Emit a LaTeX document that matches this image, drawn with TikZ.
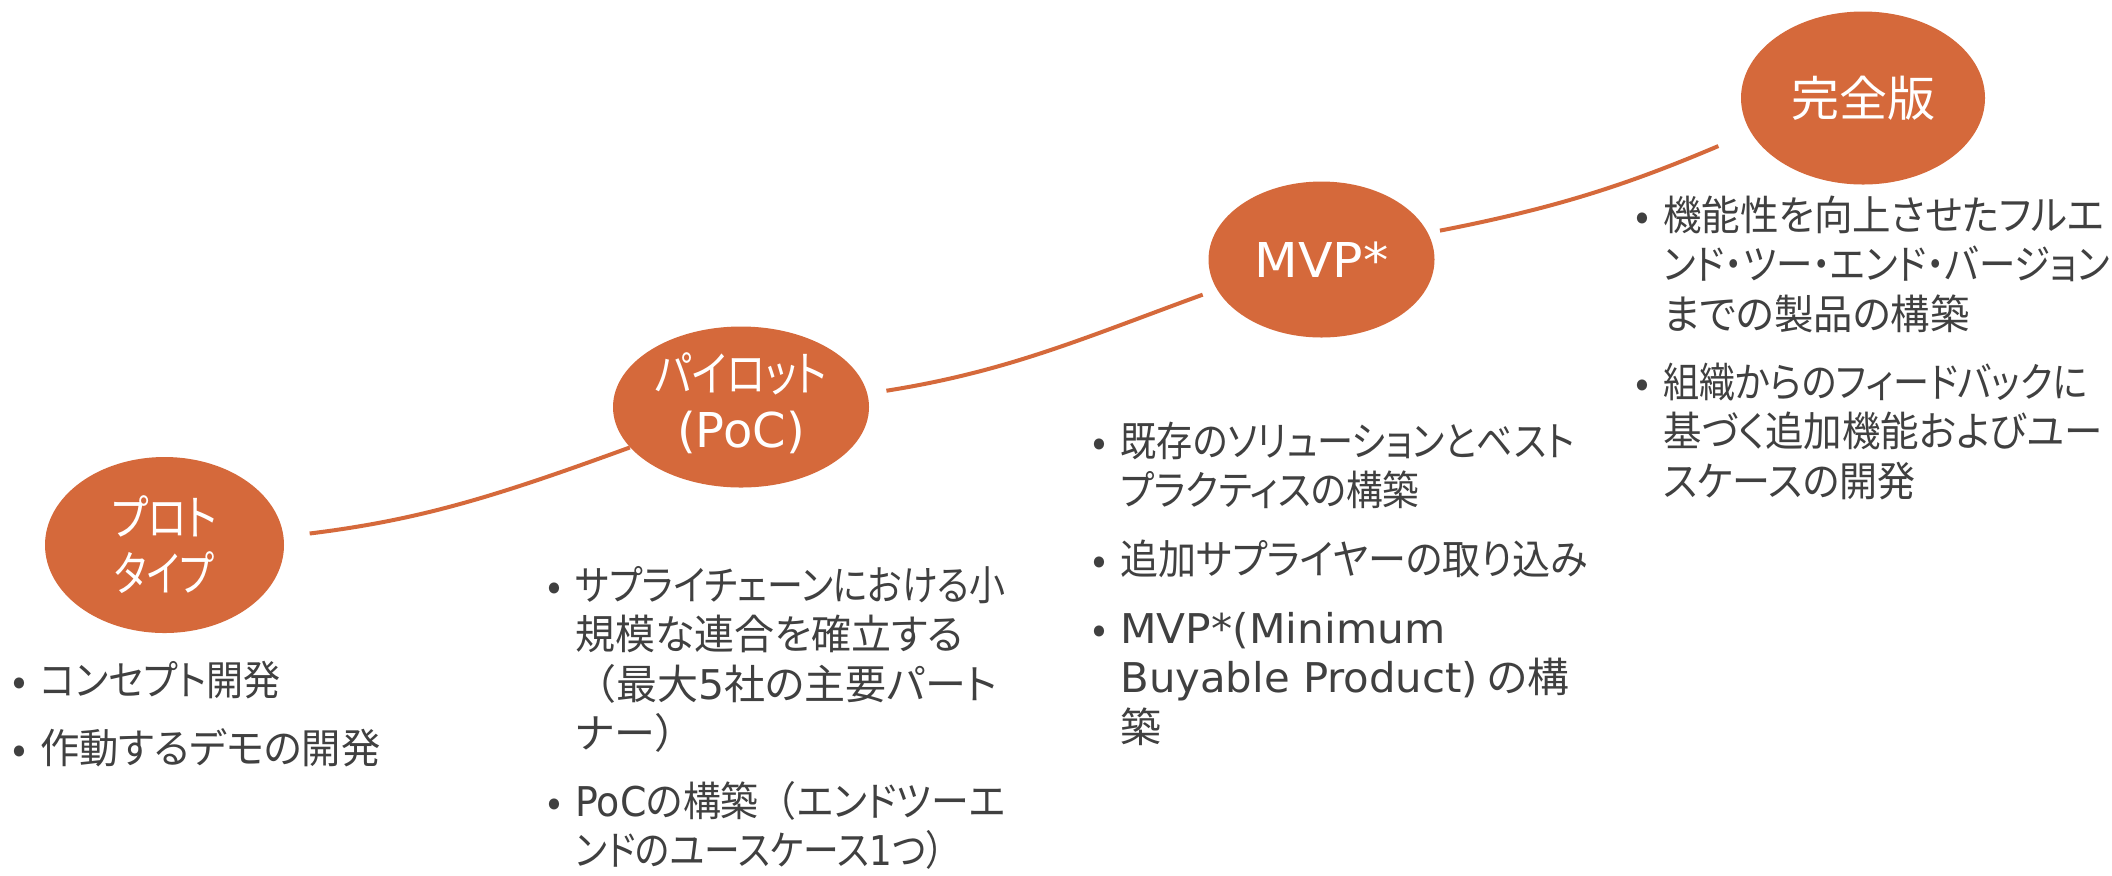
\documentclass[tikz,border=0pt]{standalone}
\usepackage{fontspec}
\usepackage{graphicx}
\setmainfont{Noto Sans CJK JP}[RawFeature=+palt]
\newfontfamily\fw{Noto Sans CJK JP}
\newfontfamily\lat{DejaVu Sans}
\usetikzlibrary{shapes.geometric}
\definecolor{orng}{HTML}{D5693B}
\definecolor{txtc}{HTML}{404040}
\newcommand\fitw[2]{\resizebox{#1pt}{\height}{#2}}
\newcommand\lns[1]{\vtop{\lineskiplimit=-100pt\lineskip=0pt\baselineskip=24.75pt\halign{##\hfil\cr#1\crcr}}}
\newcommand\bl[1]{\llap{\makebox[21pt][c]{•}}\lns{#1}}
\tikzset{
  stage/.style={ellipse, fill=orng, draw=none, inner sep=0pt},
  stagetext/.style={inner sep=0pt, text=white, align=center,
    font=\fontsize{24pt}{28pt}\selectfont},
  item/.style={anchor=base west, inner sep=0pt, text=txtc,
    font=\fontsize{20.5pt}{24.75pt}\selectfont},
  link/.style={draw=orng, line width=2pt}
}
\begin{document}
\begin{tikzpicture}[x=0.5pt, y=-0.5pt]
\fill[white] (0,0) rectangle (2112,875);
\useasboundingbox (0,0) rectangle (2112,875);

\node[stage, minimum width=119.5pt, minimum height=88pt] (e1) at (164.5,545) {};
\node[stage, minimum width=128pt, minimum height=80.5pt] (e2) at (741,407) {};
\node[stage, minimum width=113pt, minimum height=78pt] (e3) at (1321.5,259.5) {};
\node[stage, minimum width=122pt, minimum height=86.5pt] (e4) at (1863,98) {};
\node[stagetext] (l1) at (e1.center) {\fitw{53}{プロト}\\\fitw{50}{タイプ}};
\node[stagetext] (l2) at ([yshift=2pt]e2.center) {\fitw{86}{パイロット}\\{\lat (PoC)}};
\node[stagetext] (l3) at (e3.center) {\fitw{67}{\lat MVP*}};
\node[stagetext] (l4) at (e4.center) {完全版};

\draw[link, shorten <=13pt] (e1.4.7) to[out=7, in=200] (e2.200.3);
\draw[link, shorten <=9.5pt, shorten >=7.5pt] (e2.6.3) to[out=9, in=200] (e3.196.2);
\draw[link, shorten <=6pt, shorten >=17.5pt] (e3.14.6) to[out=11, in=203] (e4.197.2);

% block 1
\node[item] (t1a) at (40,695) {\bl{\fitw{120}{コンセプト開発}}};
\node[item] (t1b) at (40,763) {\bl{\fitw{170}{作動するデモの開発}}};
% block 2
\node[item] (t2a) at (575,600) {\bl{\fitw{215}{サプライチェーンにおける小}\cr
  \fitw{194}{規模な連合を確立する}\cr
  \fitw{211}{{\fw （}最大{\lat 5}社の主要パート}\cr
  ナー{\fw ）}}};
\node[item] (t2b) at (575,816) {\bl{\fitw{215}{{\lat PoC}の構築{\fw （}エンドツーエ}\cr
  \fitw{193}{ンドのユースケース{\lat 1}つ{\fw ）}}}};
% block 3
\node[item] (t3a) at (1120,456) {\bl{\fitw{227}{既存のソリューションとベスト}\cr
  \fitw{149.5}{プラクティスの構築}}};
\node[item] (t3b) at (1120,574) {\bl{\fitw{233.5}{追加サプライヤーの取り込み}}};
\node[item] (t3c) at (1120,643) {\bl{\fitw{162.5}{\lat MVP*(Minimum}\cr
  \fitw{224.5}{{\lat Buyable Product)} の構}\cr
  築}};
% block 4
\node[item] (t4a) at (1663,230) {\bl{\fitw{220.5}{機能性を向上させたフルエ}\cr
  \fitw{223}{ンド・ツー・エンド・バージョン}\cr
  \fitw{153}{までの製品の構築}}};
\node[item] (t4b) at (1663,397) {\bl{\fitw{212}{組織からのフィードバックに}\cr
  \fitw{219.5}{基づく追加機能およびユー}\cr
  \fitw{126}{スケースの開発}}};
\end{tikzpicture}
\end{document}
